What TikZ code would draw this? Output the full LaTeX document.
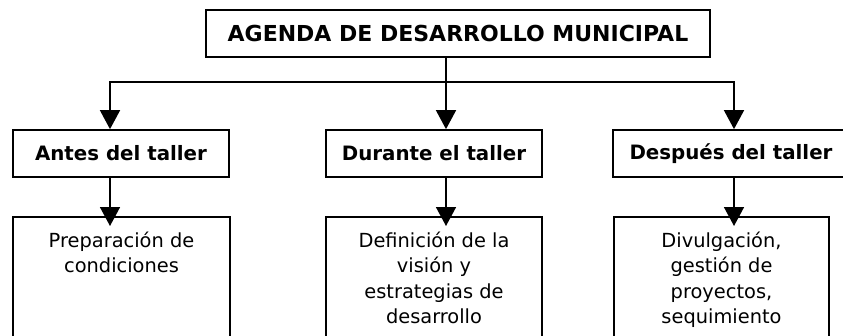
\documentclass[tikz,border=0pt]{standalone}
\usepackage{fontspec}
\setmainfont{DejaVu Sans}
\usetikzlibrary{positioning,arrows.meta}

\begin{document}
\begin{tikzpicture}[x=1pt,y=-1pt,line width=1.6pt,
  box/.style={draw,line width=1.7pt,inner sep=0pt,minimum height=47pt},
  head/.style={box,font=\bfseries\fontsize{19.8}{24}\selectfont},
  lowbox/.style={draw,line width=1.7pt,inner sep=0pt,anchor=north,minimum height=150pt},
  lowtext/.style={inner sep=0pt,anchor=north,align=center,font=\fontsize{19.4}{25.5}\selectfont},
  arr/.style={-{Triangle[width=20pt,length=19pt]}}]
\useasboundingbox (0,0) rectangle (843,335);
\clip (0,0) rectangle (843,335);

% top
\node[box,minimum width=504pt,font=\bfseries\fontsize{22}{26}\selectfont] (agenda) at (458,33.5) {AGENDA DE DESARROLLO MUNICIPAL};

% stages
\node[head,minimum width=216pt] (antes) at (121,153.5) {Antes del taller};
\node[head,minimum width=216pt] (durante) at (434,153.5) {Durante el taller};
\node[head,minimum width=236pt] (despues) at (731,153.5) {Después del taller};

% lower boxes
\node[lowbox,minimum width=217pt] (prep) at (121.5,216) {};
\node[lowbox,minimum width=216pt] (defi) at (434,216) {};
\node[lowbox,minimum width=215pt] (divul) at (721.5,216) {};
\node[lowtext,below=15pt of prep.north] (preptxt) {Preparación de\\condiciones};
\node[lowtext,below=15pt of defi.north] (defitxt) {Definición de la\\visión y\\estrategias de\\desarrollo};
\node[lowtext,below=15pt of divul.north] (divultxt) {Divulgación,\\gestión de\\proyectos,\\sequimiento};

% connectors
\coordinate (c1) at (110,82);
\coordinate (c2) at (446,82);
\coordinate (c3) at (734,82);
\draw (agenda.south -| c2) -- (c2);
\draw[arr] (c3) -- (c1) -- (c1 |- antes.north);
\draw[arr] (c1) -- (c3) -- (c3 |- despues.north);
\draw[arr] (c2) -- (c2 |- durante.north);
\draw[arr,shorten >=-10pt] (antes.south -| c1) -- (prep.north -| c1);
\draw[arr,shorten >=-10pt] (durante.south -| c2) -- (defi.north -| c2);
\draw[arr,shorten >=-10pt] (despues.south -| c3) -- (divul.north -| c3);
\end{tikzpicture}
\end{document}
